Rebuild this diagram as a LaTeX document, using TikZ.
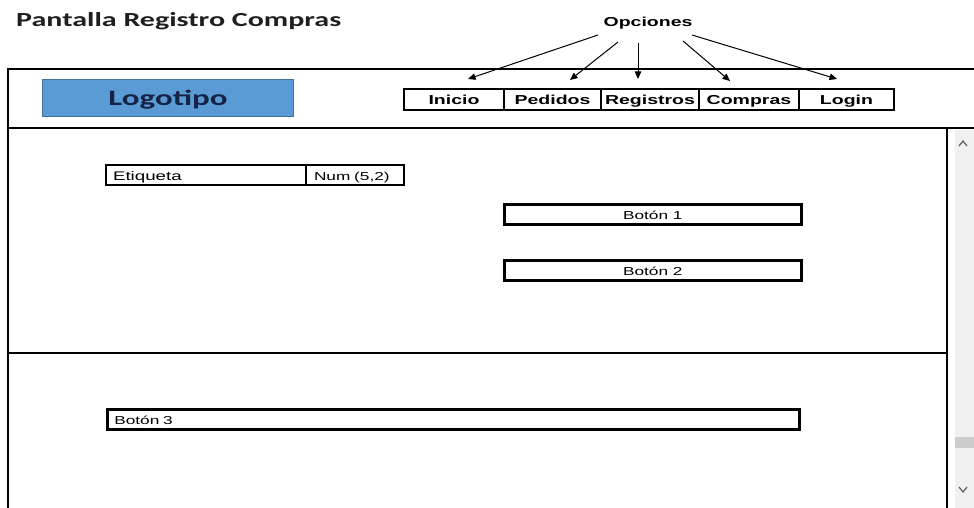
\documentclass[tikz,border=0pt]{standalone}
\usepackage{fontspec}
\usetikzlibrary{arrows.meta}
\newfontfamily\titlefont[FakeStretch=1.5]{Carlito}
\newfontfamily\uifont[FakeStretch=1.5]{Liberation Sans}
\definecolor{logofill}{RGB}{91,155,213}
\definecolor{logoedge}{RGB}{65,113,156}
\definecolor{logotext}{RGB}{20,35,70}
\definecolor{scrollbg}{RGB}{240,240,240}
\definecolor{thumbgray}{RGB}{205,205,205}
\definecolor{chevgray}{RGB}{96,96,96}
\begin{document}
\begin{tikzpicture}[x=1pt,y=-1pt,
  frameline/.style={line width=2pt},
  menuitem/.style={draw,line width=2pt,anchor=north west,minimum height=21pt,inner sep=0pt,
    text height=11pt,text depth=0pt,font=\uifont\bfseries\fontsize{13}{15}\selectfont},
  field/.style={draw,line width=2pt,anchor=north west,minimum height=20pt,inner sep=0pt,
    text height=10pt,text depth=0pt,font=\uifont\fontsize{11.5}{13}\selectfont},
  button/.style={field,line width=2.6pt},
  optarrow/.style={-{Triangle[length=7.5pt,width=6.5pt]},line width=1pt}]
\useasboundingbox (0,0) rectangle (974,508);
\fill[white] (0,0) rectangle (974,508);
% title
\node[anchor=base west,inner sep=0pt,font=\titlefont\bfseries\fontsize{20}{24}\selectfont,text=black!88] (title) at (16,27) {Pantalla Registro Compras};
% scrollbar
\fill[scrollbg] (955,130) rectangle (974,508);
\fill[thumbgray] (955,437) rectangle (974,448);
\draw[chevgray,line width=1.2pt] (959,146) -- (963,141) -- (967,146);
\draw[chevgray,line width=1.2pt] (959,487) -- (963,492) -- (967,487);
% frame
\draw[frameline] (8,508) -- (8,69) -- (974,69);
\draw[frameline] (8,128) -- (974,128);
\draw[frameline] (947,128) -- (947,508);
\draw[frameline] (8,353) -- (947,353);
% logo
\node[draw=logoedge,fill=logofill,line width=1pt,anchor=north west,minimum width=251pt,minimum height=37pt,
  inner sep=0pt,text height=15pt,text depth=0pt,text=logotext,
  font=\titlefont\bfseries\fontsize{22}{26}\selectfont] (logo) at (42,79) {Logotipo};
% menu
\node[menuitem,minimum width=100pt] (inicio) at (403,88) {Inicio};
\node[menuitem,minimum width=97pt] (pedidos) at (503,88) {Pedidos};
\node[menuitem,minimum width=98pt] (registros) at (600,88) {Registros};
\node[menuitem,minimum width=100pt] (compras) at (698,88) {Compras};
\node[menuitem,minimum width=95pt] (login) at (798,88) {Login};
% opciones
\node[anchor=base,inner sep=0pt,font=\uifont\bfseries\fontsize{13}{15}\selectfont] (opc) at (648,27) {Opciones};
\coordinate (s1) at (598,35); \coordinate (e1) at (468,79);
\coordinate (s2) at (618,42); \coordinate (e2) at (570,80);
\coordinate (s3) at (638,43); \coordinate (e3) at (638,79);
\coordinate (s4) at (683,41); \coordinate (e4) at (730,81);
\coordinate (s5) at (692,35); \coordinate (e5) at (837,79);
\draw[optarrow] (s1) -- (e1);
\draw[optarrow] (s2) -- (e2);
\draw[optarrow] (s3) -- (e3);
\draw[optarrow] (s4) -- (e4);
\draw[optarrow] (s5) -- (e5);
% fields
\node[field,text width=186pt,inner xsep=7pt,align=left,font=\uifont\fontsize{12.5}{14}\selectfont] (etq) at (105,164) {Etiqueta};
\node[field,text width=82pt,inner xsep=8pt,align=left] (num) at (305,164) {Num (5,2)};
\node[button,minimum width=297pt] (b1) at (503,203) {Botón 1};
\node[button,minimum width=297pt] (b2) at (503,259) {Botón 2};
\node[button,text width=678pt,inner xsep=7pt,align=left] (b3) at (106,408) {Botón 3};
\end{tikzpicture}
\end{document}
